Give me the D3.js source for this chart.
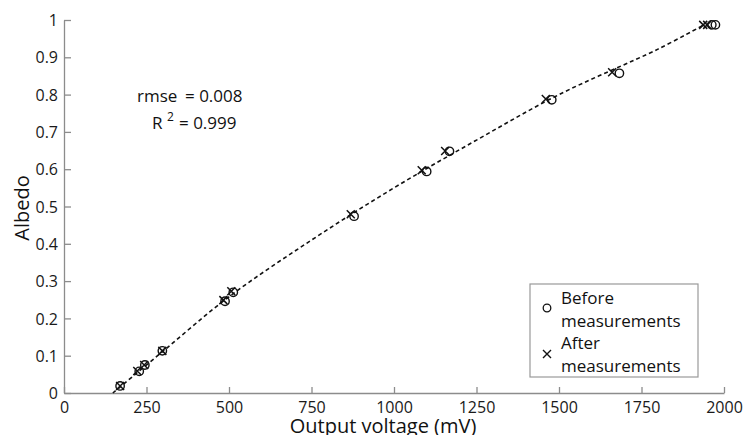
<!DOCTYPE html>
<html>
<head>
<meta charset="utf-8">
<script src="https://cdn.jsdelivr.net/npm/d3@7"></script>
<style>
  html, body { margin: 0; padding: 0; background: #fff; }
  svg { display: block; font-family: "Open Sans", "Noto Sans", sans-serif; }
</style>
</head>
<body>
<svg id="chart" width="743" height="435"></svg>
<script>
// ---- Data ----
const xTicks = [0, 250, 500, 750, 1000, 1250, 1500, 1750, 2000];
const yTicks = [0, 0.1, 0.2, 0.3, 0.4, 0.5, 0.6, 0.7, 0.8, 0.9, 1];

const beforeVoltage = [170, 228, 245, 298, 488, 513, 879, 1099, 1168, 1478, 1683, 1963, 1974];
const beforeAlbedo  = [0.019, 0.058, 0.075, 0.113, 0.246, 0.270, 0.474, 0.594, 0.648, 0.786, 0.857, 0.987, 0.987];

const afterVoltage = [170, 222, 243, 298, 483, 507, 869, 1084, 1155, 1460, 1661, 1937, 1949];
const afterAlbedo  = [0.019, 0.059, 0.075, 0.113, 0.249, 0.273, 0.479, 0.597, 0.649, 0.788, 0.860, 0.987, 0.987];

const fitVoltage = [148, 300, 500, 750, 1000, 1250, 1500, 1800, 1935];
const fitAlbedo  = [0.0, 0.112, 0.258, 0.410, 0.550, 0.678, 0.800, 0.922, 0.985];

// ---- Layout ----
const svg = d3.select("#chart");
const x = d3.scaleLinear().domain([0, 2000]).range([64, 724]);
const y = d3.scaleLinear().domain([0, 1]).range([393, 20]);
const axisColor = "#8c8c8c";

// Axes
const xAxis = d3.axisBottom(x).tickValues(xTicks).tickSizeInner(-6).tickSizeOuter(0).tickPadding(9).tickFormat(d3.format("d"));
const yAxis = d3.axisLeft(y).tickValues(yTicks).tickSizeInner(-7).tickSizeOuter(0).tickPadding(6).tickFormat(d => d === 0 ? "0" : d === 1 ? "1" : d3.format(".1f")(d));

const gx = svg.append("g").attr("transform", `translate(0,${y(0)})`).call(xAxis);
const gy = svg.append("g").attr("transform", `translate(${x(0)},0)`).call(yAxis);
[gx, gy].forEach(g => {
  g.select(".domain").attr("stroke", axisColor).attr("stroke-width", 1.3);
  g.selectAll(".tick line").attr("stroke", axisColor).attr("stroke-width", 1.3);
  g.selectAll(".tick text").attr("fill", "#1a1a1a").style("font-size", "16px").style("font-family", "'Open Sans', sans-serif");
});
gy.selectAll(".tick text").attr("dy", "0.35em");

// Fitted dashed curve
const fit = fitVoltage.map((v, i) => [v, fitAlbedo[i]]);
svg.append("path")
  .datum(fit)
  .attr("fill", "none")
  .attr("stroke", "#111")
  .attr("stroke-width", 1.6)
  .attr("stroke-dasharray", "4,3")
  .attr("d", d3.line().x(d => x(d[0])).y(d => y(d[1])).curve(d3.curveCatmullRom));

// Before markers (circles)
svg.append("g").selectAll("circle")
  .data(beforeVoltage.map((v, i) => [v, beforeAlbedo[i]]))
  .join("circle")
  .attr("cx", d => x(d[0])).attr("cy", d => y(d[1]))
  .attr("r", 4.2).attr("fill", "none").attr("stroke", "#111").attr("stroke-width", 1.4);

// After markers (crosses)
const crossSize = 4;
const crossPath = (cx, cy) => `M${cx - crossSize},${cy - crossSize}L${cx + crossSize},${cy + crossSize}M${cx - crossSize},${cy + crossSize}L${cx + crossSize},${cy - crossSize}`;
svg.append("g").selectAll("path")
  .data(afterVoltage.map((v, i) => [v, afterAlbedo[i]]))
  .join("path")
  .attr("d", d => crossPath(x(d[0]), y(d[1])))
  .attr("fill", "none").attr("stroke", "#111").attr("stroke-width", 1.5);

// Axis titles
svg.append("text")
  .attr("x", 383).attr("y", 433)
  .attr("text-anchor", "middle")
  .style("font-size", "20px").attr("fill", "#111")
  .text("Output voltage (mV)");

svg.append("text")
  .attr("transform", "translate(29,208) rotate(-90)")
  .attr("text-anchor", "middle")
  .style("font-size", "20px").attr("fill", "#111")
  .text("Albedo");

// Annotation
const ann = svg.append("g").style("font-size", "17px").attr("fill", "#111");
ann.append("text").attr("x", 137).attr("y", 102).text("rmse");
ann.append("text").attr("x", 185).attr("y", 102).text("= 0.008");
ann.append("text").attr("x", 152).attr("y", 129).text("R");
ann.append("text").attr("x", 167).attr("y", 121).style("font-size", "12px").text("2");
ann.append("text").attr("x", 179).attr("y", 129).text("= 0.999");

// Legend
const lg = svg.append("g");
lg.append("rect").attr("x", 530).attr("y", 284).attr("width", 168).attr("height", 93)
  .attr("fill", "#fff").attr("stroke", "#999").attr("stroke-width", 1.2);
lg.append("circle").attr("cx", 547).attr("cy", 308).attr("r", 3.8)
  .attr("fill", "none").attr("stroke", "#111").attr("stroke-width", 1.3);
lg.append("path").attr("d", crossPath(547, 354))
  .attr("fill", "none").attr("stroke", "#111").attr("stroke-width", 1.4);
const lt = lg.append("g").style("font-size", "17px").attr("fill", "#111");
lt.append("text").attr("x", 561).attr("y", 304).text("Before");
lt.append("text").attr("x", 561).attr("y", 327).text("measurements");
lt.append("text").attr("x", 561).attr("y", 349).text("After");
lt.append("text").attr("x", 561).attr("y", 372).text("measurements");
</script>
</body>
</html>
